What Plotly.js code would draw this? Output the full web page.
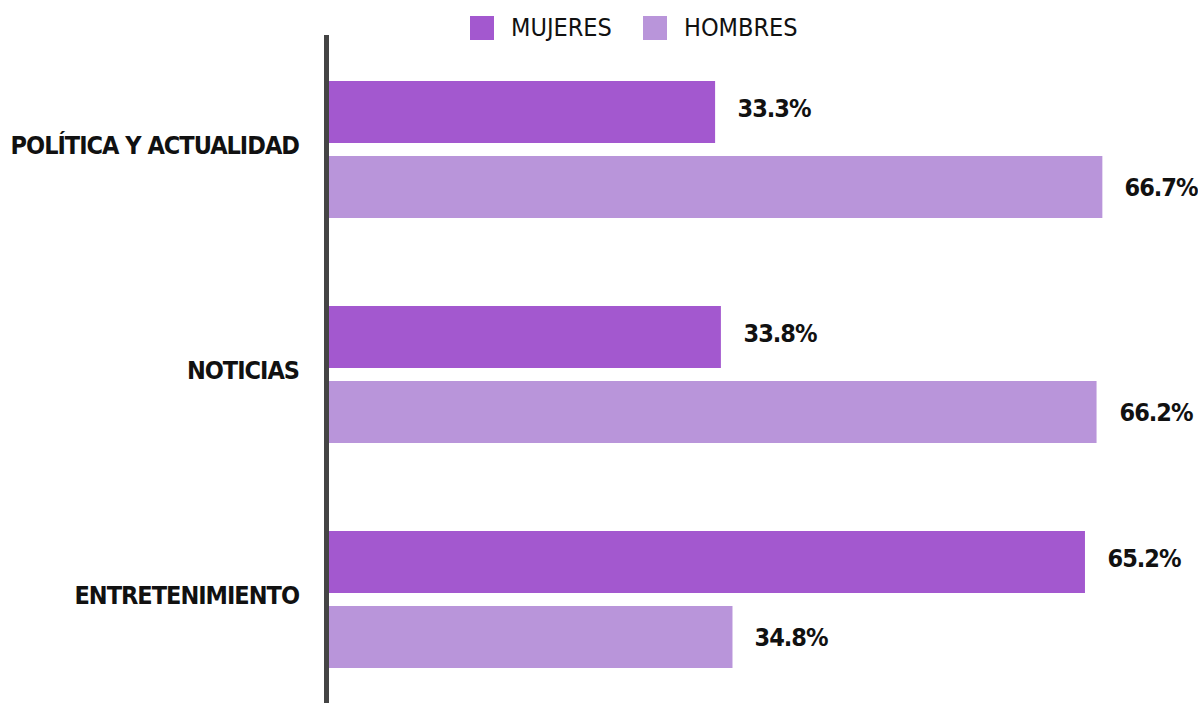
<!DOCTYPE html>
<html>
<head>
<meta charset="utf-8">
<script src="https://cdn.plot.ly/plotly-3.0.1.min.js"></script>
<style>
html,body{margin:0;padding:0;background:#fff;}
#chart{width:1198px;height:703px;}
#chart .ytick text{letter-spacing:-1px;}
#chart text[style*="bold"], #chart text[style*="700"]{letter-spacing:-1px;}
</style>
</head>
<body>
<div id="chart"></div>
<script>
const categories = ["POLÍTICA Y ACTUALIDAD", "NOTICIAS", "ENTRETENIMIENTO"];
const seriesNames = ["MUJERES", "HOMBRES"];
const mujeres = [33.3, 33.8, 65.2];
const hombres = [66.7, 66.2, 34.8];

const FONT = "'DejaVu Sans Condensed', 'DejaVu Sans', sans-serif";
const colors = ["#A358CF", "#B995DA"];
const yIdx = categories.map((c, i) => i);

const traces = [mujeres, hombres].map((vals, k) => ({
  type: "bar",
  orientation: "h",
  name: seriesNames[k],
  x: vals,
  y: yIdx,
  marker: {color: colors[k]},
  showlegend: false,
  hoverinfo: "x+name"
}));

const annotations = [];
[mujeres, hombres].forEach((vals, k) => {
  vals.forEach((v, i) => {
    annotations.push({
      x: v, y: i, xref: "x", yref: "y",
      text: v.toFixed(1) + "%",
      showarrow: false, xanchor: "left", yanchor: "middle",
      xshift: 18, yshift: k === 0 ? 41 : -38,
      font: {family: FONT, size: 25, color: "#111", weight: "bold"}
    });
  });
});

// manual legend
const W = 858, H = 668, L = 329, T = 35;
const px = x => (x - L) / W;
const py = y => (T + H - y) / H;
const legendPos = [[470, 509], [643, 682]];
const shapes = [];
seriesNames.forEach((n, k) => {
  const [sx, tx] = legendPos[k];
  shapes.push({type: "rect", xref: "paper", yref: "paper",
    x0: px(sx), x1: px(sx + 24), y0: py(40), y1: py(16),
    fillcolor: colors[k], line: {width: 0}});
  annotations.push({xref: "paper", yref: "paper", x: px(tx), y: py(28),
    text: n, showarrow: false, xanchor: "left", yanchor: "middle",
    font: {family: FONT, size: 25, color: "#111"}});
});

const layout = {
  width: 1198, height: 703,
  margin: {l: L, r: 1198 - L - W, t: T, b: 0, pad: 0},
  paper_bgcolor: "#fff", plot_bgcolor: "#fff",
  barmode: "group", bargap: 0.333, bargroupgap: 0.173,
  showlegend: false,
  xaxis: {range: [0, 74], visible: false, fixedrange: true},
  yaxis: {
    range: [2.46, -0.509],
    tickmode: "array", tickvals: yIdx, ticktext: categories,
    showline: true, linecolor: "#444", linewidth: 5,
    showgrid: false, zeroline: false, ticks: "",
    ticklabelstandoff: 20, ticklabelshift: 4,
    tickfont: {family: FONT, size: 25, color: "#111", weight: "bold"}
  },
  annotations: annotations,
  shapes: shapes
};

Plotly.newPlot("chart", traces, layout, {displayModeBar: false, staticPlot: true});
</script>
</body>
</html>
